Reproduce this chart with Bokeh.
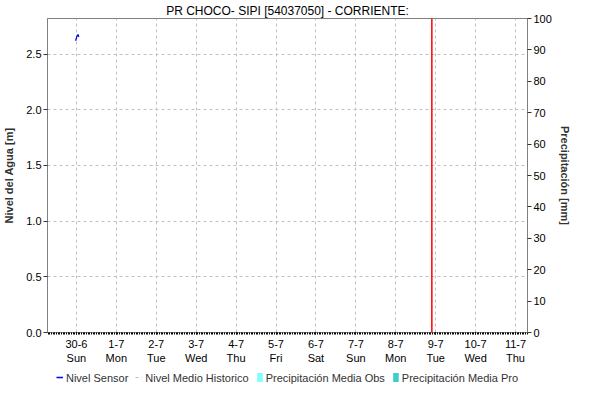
import numpy as np
from bokeh.plotting import figure
from bokeh.layouts import column
from bokeh.models import (Range1d, LinearAxis, FixedTicker, Span, Legend, LegendItem,
                          NumeralTickFormatter)
from bokeh.embed import file_html
from bokeh.resources import INLINE

# ---------------- data ----------------
chart_title = "PR CHOCO- SIPI [54037050] - CORRIENTE:"
day_labels = ["30-6", "1-7", "2-7", "3-7", "4-7", "5-7", "6-7", "7-7", "8-7", "9-7", "10-7", "11-7"]
weekday_labels = ["Sun", "Mon", "Tue", "Wed", "Thu", "Fri", "Sat", "Sun", "Mon", "Tue", "Wed", "Thu"]
day_pos = list(range(len(day_labels)))          # days since 30-6 00:00

sensor_t = [-0.02, 0.0, 0.02, 0.04, 0.06]        # days since 30-6
sensor_level = [2.62, 2.645, 2.665, 2.676, 2.655]  # m

# no historical mean visible, no precipitation recorded
hist_t = [0.0, 1.0]
hist_level = [float("nan"), float("nan")]
precip_obs_t = [0.0, 1.0]
precip_obs = [0.0, 0.0]
precip_pro_t = [0.0, 1.0]
precip_pro = [0.0, 0.0]

now_t = 8.904                 # current time marker (days since 30-6)
x_start, x_end = -0.724, 11.30
level_range = (0.0, 2.82)
precip_range = (0, 100)
level_ticks = [0.0, 0.5, 1.0, 1.5, 2.0, 2.5]
precip_ticks = [0, 10, 20, 30, 40, 50, 60, 70, 80, 90, 100]

legend_labels = ["Nivel Sensor", "Nivel Medio Historico",
                 "Precipitación Media Obs", "Precipitación Media Pro"]

FONT = "Liberation Sans"
AXIS_COL = "#808080"
TXT = "#000000"
LBL = "#333333"
C_SENSOR, C_HIST, C_OBS, C_PRO = "#0000ff", "#c0c0c0", "#80FFFF", "#40CCCC"


def draw_series(fig):
    r_obs = fig.vbar(x=precip_obs_t, top=precip_obs, width=0.04, y_range_name="precip",
                     fill_color=C_OBS, line_color=None)
    r_pro = fig.vbar(x=precip_pro_t, top=precip_pro, width=0.04, y_range_name="precip",
                     fill_color=C_PRO, line_color=None)
    r_hist = fig.line(hist_t, hist_level, line_color=C_HIST, line_dash="3 3", line_width=1)
    r_sensor = fig.line(sensor_t, sensor_level, line_color=C_SENSOR, line_width=1.3)
    return [r_sensor, r_hist, r_obs, r_pro]


# ---------------- main figure ----------------
p = figure(width=573, height=366, output_backend="svg", toolbar_location=None,
           x_range=Range1d(x_start, x_end), y_range=Range1d(*level_range),
           min_border_left=41, min_border_right=40, min_border_top=14, min_border_bottom=32,
           background_fill_color="white", border_fill_color="white")
p.outline_line_color = AXIS_COL

p.title.text = chart_title
p.title.align = "center"
p.title.text_font = FONT
p.title.text_font_size = "12px"
p.title.text_font_style = "normal"
p.title.text_color = TXT
p.title.standoff = 2
p.title.offset = 0

p.extra_y_ranges = {"precip": Range1d(*precip_range)}
draw_series(p)
p.add_layout(Span(location=now_t, dimension="height", line_color="#ff0000", line_width=1.5))

xa = p.xaxis[0]
minor = list(np.arange(-17, 12 * 24 + 8) / 24.0)
xa.ticker = FixedTicker(ticks=day_pos, minor_ticks=minor)
xa.major_label_overrides = {d: f"{a}\n{b}" for d, a, b in zip(day_pos, day_labels, weekday_labels)}
xa.major_tick_out = 2
xa.major_tick_in = 0
xa.minor_tick_out = 2
xa.minor_tick_in = 0
xa.minor_tick_line_color = "black"
xa.major_tick_line_color = "black"
xa.axis_line_color = AXIS_COL
xa.major_label_text_font = FONT
xa.major_label_text_font_size = "11px"
xa.major_label_text_color = TXT
xa.major_label_standoff = 3

ya = p.yaxis[0]
ya.ticker = FixedTicker(ticks=level_ticks)
ya.formatter = NumeralTickFormatter(format="0.0")
ya.axis_label = "Nivel del Agua [m]"
ya.axis_label_text_font = FONT
ya.axis_label_text_font_size = "11px"
ya.axis_label_text_font_style = "bold"
ya.axis_label_text_color = LBL
ya.axis_label_standoff = 8
ya.major_label_text_font = FONT
ya.major_label_text_font_size = "11px"
ya.major_label_text_color = TXT
ya.major_label_standoff = 2
ya.major_tick_out = 4
ya.major_tick_in = 0
ya.minor_tick_line_color = None
ya.axis_line_color = AXIS_COL
ya.major_tick_line_color = "#333333"

ra = LinearAxis(y_range_name="precip", ticker=FixedTicker(ticks=precip_ticks))
ra.axis_label = "Precipitación [mm]"
ra.axis_label_text_font = FONT
ra.axis_label_text_font_size = "11px"
ra.axis_label_text_font_style = "bold"
ra.axis_label_text_color = LBL
ra.axis_label_standoff = 4
ra.major_label_text_font = FONT
ra.major_label_text_font_size = "11px"
ra.major_label_text_color = TXT
ra.major_label_standoff = 2
ra.major_tick_out = 4
ra.major_tick_in = 0
ra.minor_tick_line_color = None
ra.axis_line_color = AXIS_COL
ra.major_tick_line_color = "#333333"
p.add_layout(ra, "right")

p.xgrid.ticker = FixedTicker(ticks=day_pos)
for g in (p.xgrid[0], p.ygrid[0]):
    g.grid_line_color = "#c0c0c0"
    g.grid_line_dash = "3 3"
    g.grid_line_width = 1

# ---------------- legend strip ----------------
# same series drawn outside this strip's visible range; only the legend shows
lg = figure(width=573, height=22, output_backend="svg", toolbar_location=None,
            x_range=Range1d(x_start, x_end), y_range=Range1d(100, 101),
            x_axis_type=None, y_axis_type=None,
            min_border_left=0, min_border_right=0, min_border_top=0, min_border_bottom=0,
            background_fill_color="white", border_fill_color="white")
lg.outline_line_color = None
lg.grid.visible = False
lg.extra_y_ranges = {"precip": Range1d(1000, 1001)}
lg_renderers = draw_series(lg)

legend = Legend(items=[LegendItem(label=lab, renderers=[r])
                       for lab, r in zip(legend_labels, lg_renderers)],
                orientation="horizontal", location="center")
legend.border_line_color = None
legend.background_fill_alpha = 0
legend.label_text_font = FONT
legend.label_text_font_size = "11px"
legend.label_text_color = LBL
legend.label_height = 13
legend.glyph_width = 7
legend.glyph_height = 11
legend.label_standoff = 3
legend.spacing = 7
legend.padding = 0
legend.margin = 0
lg.add_layout(legend, "center")

layout = column(p, lg, spacing=0)
open("out.html", "w").write(file_html(layout, INLINE))
